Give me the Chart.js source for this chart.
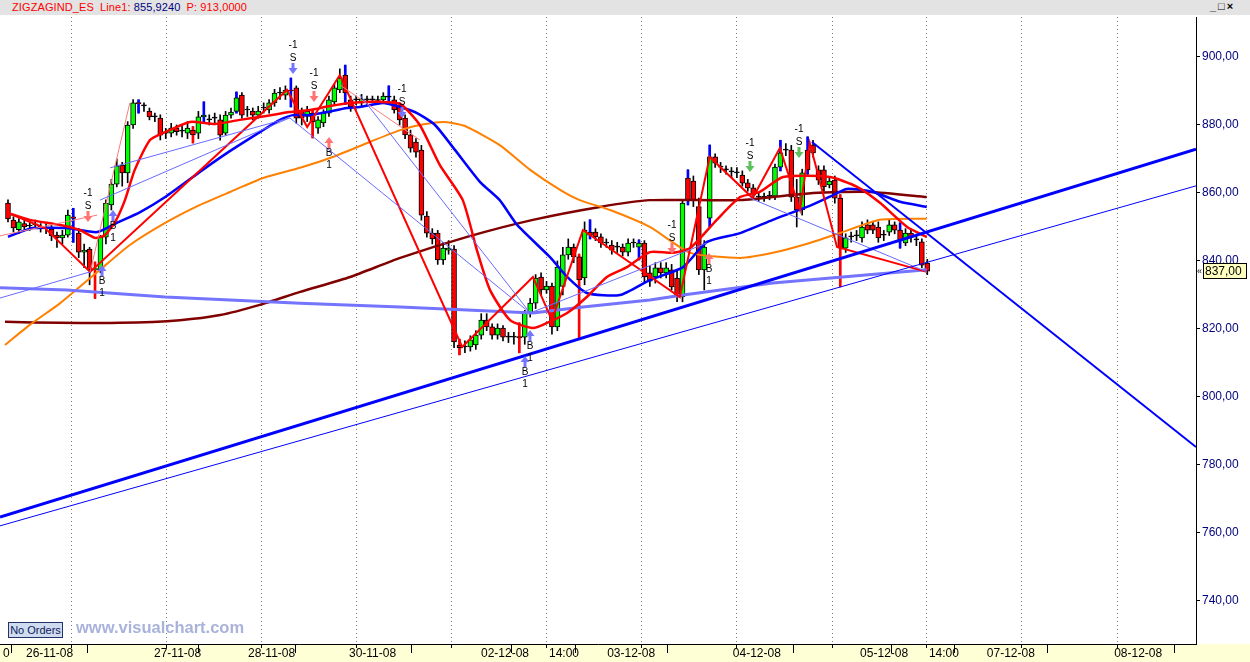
<!DOCTYPE html>
<html>
<head>
<meta charset="utf-8">
<script src="https://cdn.jsdelivr.net/npm/chart.js@4.4.1/dist/chart.umd.min.js"></script>
<style>
body { margin: 0; background: #fff; overflow: hidden; }
#wrap { position: relative; width: 1250px; height: 662px; }
#chart { position: absolute; left: 0; top: 0; }
#bar { position: absolute; left: 0; top: 0; width: 1250px; height: 15px; background: #e3e3e3;
       font: 11px "Liberation Sans", Arial, sans-serif; line-height: 15px; white-space: pre; }
#bar .r { color: #ff0000; }
#bar .b { color: #000080; }
#bar .t { position: absolute; left: 12px; top: 0; letter-spacing: 0.1px; }
#bar .g { margin-left: 3px; }
#btns { position: absolute; left: 1210px; top: 0; font: bold 11px "Liberation Sans", Arial, sans-serif; color: #000; letter-spacing: 2px; }
#orders { position: absolute; left: 8px; top: 622px; width: 53px; height: 14px; background: #cfdcf0; border: 1px solid #24306a;
          font: 11px "Liberation Sans", Arial, sans-serif; color: #10205a; line-height: 14px; text-align: center; }
#web { position: absolute; left: 76px; top: 618px; font: bold 16.5px "Liberation Sans", Arial, sans-serif; color: #a9b2da; }
</style>
</head>
<body>
<div id="wrap">
  <canvas id="chart" width="1250" height="662"></canvas>
  <div id="bar"><span class="t"><span class="r">ZIGZAGIND_ES</span><span class="r g"> Line1:</span> <span class="b">855,9240</span><span class="r g"> P: 913,0000</span></span><span id="btns">_□×</span></div>
  <div id="orders">No Orders</div>
  <div id="web">www.visualchart.com</div>
</div>
<script>
// Bougies horaires du mini S&P (ES), 26-11-08 -> 05-12-08
const opens = [
  857, 852, 849.2, 851, 850.3, 850.6, 850, 849.7, 849.4, 847.6,
  846.8, 847.6, 853, 848.2, 842.6, 843.5, 837.4, 837.4, 847, 856.5,
  862.6, 868.2, 865.9, 880, 886.5, 885.6, 884.1, 882.4, 882, 877.6,
  877.6, 879.1, 878.2, 877.6, 878.5, 877.6, 882.4, 881.5, 882, 881.5,
  877.6, 882.9, 884, 888.8, 884.4, 884.1, 882.9, 885, 884.4, 886.5,
  889.4, 888.8, 890.3, 890.9, 884.4, 882.5, 883.5, 879.1, 880.6, 883.5,
  886.8, 890.3, 894.7, 887.4, 887.4, 886.5, 887.4, 887.4, 887.2, 887.4,
  888.2, 887.4, 885.9, 882, 877.1, 875, 872.6, 853.2, 848.2, 848.2,
  840.3, 843.2, 843.5, 815.3, 814.7, 814.7, 815.3, 818.2, 822.6, 820.6,
  818.2, 820.3, 817.6, 817.6, 817.8, 817.6, 824.7, 827.6, 835.3, 831.5,
  832.6, 820.6, 832.5, 841.8, 844.1, 841.2, 835, 848.5, 848.5, 847.1,
  845.3, 844.7, 844.1, 844.1, 842.6, 845.3, 844.1, 845.3, 836.5, 835.3,
  838, 836.5, 837.4, 835, 829.4, 864.4, 863.5, 856, 837.4, 852.6,
  870.6, 867.6, 866.8, 866.2, 865.9, 865.3, 863, 861.5, 858.8, 858.8,
  859.1, 859.1, 867.6, 872.6, 872.6, 858.8, 855, 872.6, 874.1, 866.8,
  866.8, 862.4, 863.8, 858.5, 843.8, 847.1, 847.4, 846.8, 850.6, 850.6,
  850, 847.6, 848.5, 850.6, 849.1, 845.3, 848.2, 846.2, 845.6, 839.4
];
const highs = [
  858, 853, 852.5, 852, 851.5, 852, 851, 851, 850.5, 848.5,
  849, 855, 855.5, 849.5, 845, 844, 839.7, 847.5, 858, 864,
  870, 869, 881, 887.5, 887.4, 886.5, 885, 883.5, 883, 879,
  880.5, 880, 880, 881, 879.5, 884, 886.8, 883, 883.5, 883,
  884, 885, 889.7, 889.5, 885.5, 885, 885.5, 886.5, 887.5, 890.5,
  891, 891.5, 893.8, 891.5, 885, 885.5, 884.5, 882.5, 884.5, 888.5,
  892, 896.5, 897.6, 888.5, 888.5, 889, 888.5, 888.5, 888.5, 889.5,
  891.5, 888.5, 886.5, 883, 878.5, 876, 874, 854.5, 849.5, 849,
  845.5, 846, 844.5, 817, 816.5, 818, 819.5, 824.5, 824.5, 821.5,
  821.5, 821, 819, 819, 821.8, 825.5, 829, 836, 836.5, 834,
  833.5, 840, 844, 846.5, 845, 842, 851.5, 852.1, 849.5, 848,
  846.5, 846, 845.5, 845, 846.5, 846.5, 846.2, 846, 838.5, 839.5,
  839.5, 839.5, 839, 837, 858, 866.8, 865, 858.5, 846, 874.1,
  871.5, 869, 868, 867.5, 867.5, 866.5, 864, 862.5, 860, 860,
  860.5, 868.5, 875.5, 874.5, 874, 864, 867, 876.5, 875.5, 868,
  868, 864.5, 865, 859.5, 848, 848.5, 849, 851.5, 852.1, 851.5,
  851.5, 849, 852, 851.5, 851.2, 849.5, 849, 847.5, 846.5, 840.5
];
const lows = [
  851.5, 848.5, 848, 849, 849, 849.5, 848.5, 848, 846, 844,
  845, 847, 845.5, 841, 838, 833, 829, 836.5, 845, 855,
  861.8, 862, 863, 879, 883.5, 884, 881.5, 881, 875.6, 876,
  876.5, 877, 876.5, 876, 874.7, 876, 880.5, 880, 880.5, 875.5,
  877, 882, 883.5, 882, 882.5, 881.5, 882, 883.5, 883.5, 885.5,
  887.5, 887.5, 885.3, 880.5, 880, 881, 876.2, 877.5, 879.5, 882.5,
  886, 889.5, 886, 884, 886, 885.5, 886, 886.5, 886, 886.5,
  886.5, 883.5, 880, 876, 872, 870.5, 852, 847, 845, 839,
  839, 842, 814.5, 812.4, 813, 813.5, 814, 817, 819.5, 817,
  817, 816.5, 816, 815.5, 813, 815.5, 823.5, 826, 830, 830.5,
  818.5, 819.5, 830, 840.5, 839.5, 817.4, 833, 846.5, 846, 844,
  844, 842, 842.5, 841.5, 841.5, 844, 840.3, 833.5, 832.5, 833.5,
  835, 835, 831.5, 828, 828, 856.5, 856, 836, 831.5, 850,
  867.5, 866, 865.5, 864.5, 864.5, 862, 860.5, 858.5, 857.5, 857.5,
  858, 858, 866.5, 871, 857.5, 850, 853.5, 865.5, 870.5, 862.5,
  860.5, 861.5, 857, 832.4, 842.5, 845.5, 846, 845.5, 848, 848,
  845.5, 846, 847.5, 848, 843.8, 844.5, 845.5, 844.5, 838, 836
];
const closes = [
  852.4, 849.7, 851.5, 850, 850.3, 850.6, 850, 849.7, 847.4, 846.8,
  847.6, 853.5, 852.5, 842.6, 843.2, 837.4, 837.8, 847, 857, 862.6,
  868, 865.9, 880, 886.5, 886.3, 885.6, 882.4, 882.4, 877, 877.6,
  879.1, 878, 878.2, 879.1, 877.1, 882.4, 882.9, 881.5, 882, 877,
  882.9, 883.8, 888, 882.9, 884.4, 882.9, 884.1, 885, 886.5, 889.4,
  889.4, 890.3, 890, 882, 882, 884, 880.9, 881.5, 883.5, 887.4,
  890.9, 893.8, 889.4, 885.3, 887.4, 887.6, 887.4, 887.4, 887.2, 888.5,
  888.2, 884.4, 881.5, 877.1, 873.2, 872, 853.5, 848.2, 846.5, 840.3,
  843.8, 843.8, 816.2, 814.5, 814.7, 816.8, 818.2, 822.6, 820.6, 818.2,
  820.3, 817.6, 817.6, 817.6, 817.4, 824.7, 827.6, 835, 831.5, 832.6,
  820.6, 838.2, 841.8, 844.1, 841.2, 834.4, 849.1, 847.6, 847.1, 845.3,
  845.3, 843.2, 844.1, 842.6, 845.3, 845.3, 845.3, 835.3, 834.1, 838,
  836.5, 838, 832.4, 829.4, 857, 858, 857.9, 837.4, 844.1, 870.6,
  868.8, 867.6, 866.8, 866.2, 865.9, 862.9, 861.5, 859.4, 858.8, 858.8,
  859.1, 867.6, 871.8, 872.6, 858.8, 855, 865.9, 866.8, 871.8, 863.8,
  861.8, 863.5, 858.5, 843.8, 846.8, 847.1, 847.4, 850, 849.1, 849.1,
  846.8, 847.6, 850.6, 849.1, 846.2, 848.2, 847.1, 846.2, 838.8, 837
];
// bougies dont la meche est coloree
const blueWicks = [12, 24, 36, 42, 52, 62, 70, 107, 116, 125, 129, 142, 147, 164];
const redWicks = [16, 34, 56, 83, 94, 105, 153];

// moyennes mobiles et lignes du ZigZag : [numero de bougie, prix]
const blueMA = [[0,847.1],[2.2,848.5],[4.6,849.7],[10.8,849.7],[16.4,848.5],[20,851.2],[24.3,854.4],[28.9,858.8],[35.8,866.8],[40.3,871.8],[46.3,877.9],[50,881.5],[52.4,882.9],[55.5,882.9],[58.6,883.8],[62.3,885],[64.7,885.3],[68.9,886.5],[72.1,885.3],[75.2,883.5],[78.5,880],[82.2,872.6],[86.8,863.2],[90.4,857.9],[93.6,850.6],[99.6,841.2],[102.8,835.3],[106.4,830.6],[112.5,830],[118,834.4],[124.1,838.2],[128.5,845.6],[134.6,848.2],[140.6,852.1],[146.9,855.9],[151.7,859.4],[154.2,861.2],[159,860.3],[164,857.4],[168.9,855.9]];
const redMA = [[0,854.1],[4,852.1],[9.6,850.6],[13.2,849.1],[16,846.8],[17.8,847.6],[19.7,851.5],[21.5,857.9],[23.3,866.8],[26.1,875.6],[28.9,877.9],[33.5,880.9],[38.1,880.3],[42.6,881.5],[47.2,882.6],[51.8,883.8],[55.5,884.4],[59.2,885.6],[62.9,886.5],[68.4,886.8],[72.1,886.2],[75.7,880],[79.4,868.2],[83.6,857.9],[86.2,843.2],[88.6,831.5],[92.3,822.6],[96.5,820.3],[99.1,821.8],[102.8,824.7],[106.4,829.4],[110.1,835.3],[113.8,838.2],[118,842.6],[122.2,842.4],[125.4,843.8],[130.3,852.1],[134.6,858.8],[138.2,860.3],[142.5,864.7],[151.1,864.7],[156.1,861.8],[160.3,857.1],[165.3,850],[168.9,847.1]];
const orangeMA = [[-0.55,815.3],[4,821.2],[9.6,827.6],[16.9,837.4],[22.4,844.7],[28.9,851.2],[35.3,856.5],[40.8,860.3],[46.9,864.4],[53.7,867.4],[59.7,870.6],[66.5,875],[72.1,878.5],[76.7,880.3],[80.3,880.9],[84,879.7],[90.4,874.1],[96,866.8],[101.5,860.9],[105.1,857.9],[110.7,855],[118,850],[125.4,842.4],[134.6,840.9],[140.6,842.4],[147.4,845.3],[152.9,848.2],[160.3,852.1],[168.9,852.4]];
const maroonMA = [[-0.55,822.1],[9.6,821.8],[20.6,821.8],[31.6,822.6],[39,824.1],[46.3,827.1],[53.7,830.9],[62.9,835.3],[72.1,840.9],[84.4,847.1],[96.5,852.1],[108.8,855.9],[118,857.9],[134.6,857.9],[148,860],[158.5,860.3],[168.9,858.8]];
const zigzag = [[0,854.1],[6.8,849.7],[15.1,836.8],[51.3,890.3],[55,879.4],[61,894.7],[83.5,814.7],[96.5,835.3],[100,822.6],[105.7,849.1],[123.5,829.4],[129,870.6],[136.9,858.5],[141.9,873.2],[145.6,855],[147.4,874.7],[152.4,844.1],[168.9,836.8]];
const lowLine = [[-1.47,832.1],[10.8,831.5],[28.9,829.4],[53.7,827.6],[72.1,826.5],[84.4,825.6],[96.5,824.7],[105.7,826.5],[118,828.5],[124.1,830],[140.6,833.5],[168.9,837.4]];
const thinBlue = [
  [[-1.47,829.1],[15.1,836.8]],
  [[16.9,857.9],[51.8,882.1]],
  [[18.8,867.4],[51.8,882.1]],
  [[51.8,882.1],[96,824.7]],
  [[64.7,888.8],[96,824.7]],
  [[96,824.7],[128.5,845.3]],
  [[136.4,858.5],[168.9,836.8]]
];
const thinPink = [
  [[-1.47,847.4],[16.4,853.5]],
  [[15.1,836.8],[22.4,886.5]],
  [[61,891.8],[75.7,875.6]]
];
// droites de tendance tracees a la main
const trendUp = [[-1.47,764.7],[218.4,872.9]];
const trendUpThin = [[-1.47,762.1],[218.4,862.1]];
const trendDown = [[147.8,875],[218.4,785.3]];

// signaux du ZigZag
const sigX = [14.7, 17.3, 19.3, 52.4, 56.25, 59, 72.4, 96, 95, 122, 128.9, 136.4, 145.4];
const sigPrice = [851.5, 838.8, 855, 895, 886.8, 876.5, 882, 819.7, 812, 842, 842.4, 866.2, 870.3];
const sigSide = ['S','B','B','S','S','B','S','B','B','S','B','S','S'];
const sigTone = ['pink','blue','blue','blue','pink','pink','blue','blue','blue','pink','pink','green','green'];

// axes
const dateTicks = [2.76, 26.29, 43.57, 62.13, 86.4, 98.9, 109.6, 132.7, 156.1, 168.75, 179.4, 202.8];
const dateLabels = ['26-11-08','27-11-08','28-11-08','30-11-08','02-12-08','14:00','03-12-08','04-12-08','05-12-08','14:00','07-12-08','08-12-08'];
const gridTicks = [11.6, 29.1, 46.5, 64.0, 81.5, 98.9, 116.4, 133.9, 151.4, 168.8, 186.3, 203.8];
const priceTicks = [740, 760, 780, 800, 820, 840, 860, 880, 900];

const X_MIN = -1.47, X_MAX = 218.4;
const toneColor = { pink: '#ff7373', blue: '#7575ff', green: '#5cc05c' };

const idx = opens.map((_, i) => i);
const bodyColor = i => closes[i] > opens[i] ? '#00ff00' : closes[i] < opens[i] ? '#ff0000' : '#000000';
const pts = arr => arr.map(p => ({ x: p[0], y: p[1] }));

function line(data, color, width, order, tension) {
  return {
    type: 'line', data: pts(data), borderColor: color, borderWidth: width,
    pointRadius: 0, tension: tension || 0, fill: false, order: order
  };
}

const datasets = [
  {
    type: 'bar', data: idx.map(i => ({ x: i, y: [lows[i], highs[i]] })),
    backgroundColor: '#000', barThickness: 1, grouped: false, order: 30
  },
  {
    type: 'bar',
    data: blueWicks.concat(redWicks).map(i => ({ x: i, y: [lows[i], highs[i]] })),
    backgroundColor: ctx => blueWicks.includes(ctx.raw && ctx.raw.x) ? '#0000ff' : '#ff0000',
    barThickness: 2, grouped: false, order: 29
  },
  {
    type: 'bar', data: idx.map(i => ({ x: i, y: [opens[i], closes[i]] })),
    backgroundColor: ctx => bodyColor(ctx.dataIndex),
    borderColor: '#000', borderWidth: 1, borderSkipped: false,
    barThickness: 5, minBarLength: 1, grouped: false, order: 28
  },
  line(maroonMA, '#800000', 2.5, 12, 0.2),
  line(orangeMA, '#ff8000', 2, 11, 0.2),
  line(lowLine, '#7474ff', 3, 10),
  line(blueMA, '#0000ff', 2.5, 9, 0.2),
  line(redMA, '#ff0000', 2.5, 8, 0.2),
  line(zigzag, '#ff0000', 2, 7),
  line(trendUp, '#0000ff', 3, 3),
  line(trendUpThin, '#0000ff', 1, 3),
  line(trendDown, '#0000ff', 2, 3)
];
thinBlue.forEach(seg => datasets.push(line(seg, '#6a6aff', 1, 6)));
thinPink.forEach(seg => datasets.push(line(seg, '#ff7a7a', 1, 6)));

const decor = {
  id: 'decor',
  beforeDraw(chart) {
    const { ctx, chartArea: a, width, height } = chart;
    ctx.save();
    ctx.fillStyle = '#ffffff';
    ctx.fillRect(0, 0, width, height);
    ctx.fillStyle = '#ffffd6';
    ctx.fillRect(0, a.bottom, width, height - a.bottom);
    ctx.restore();
  },
  beforeDatasetsDraw(chart) {
    const { ctx, chartArea: a, scales } = chart;
    ctx.save();
    ctx.strokeStyle = '#7a7a7a';
    ctx.lineWidth = 1;
    ctx.setLineDash([1, 3]);
    gridTicks.forEach(v => {
      const px = Math.round(scales.x.getPixelForValue(v)) + 0.5;
      ctx.beginPath(); ctx.moveTo(px, a.top); ctx.lineTo(px, a.bottom); ctx.stroke();
    });
    ctx.setLineDash([]);
    ctx.strokeStyle = '#000';
    gridTicks.forEach(v => {
      const px = Math.round(scales.x.getPixelForValue(v)) + 0.5;
      ctx.beginPath(); ctx.moveTo(px, a.bottom); ctx.lineTo(px, a.bottom + 4); ctx.stroke();
    });
    ctx.restore();
  },
  afterDatasetsDraw(chart) {
    const { ctx, scales } = chart;
    ctx.save();
    ctx.font = '10px "Liberation Sans", Arial, sans-serif';
    ctx.textAlign = 'center';
    ctx.textBaseline = 'middle';
    sigX.forEach((v, k) => {
      const px = Math.round(scales.x.getPixelForValue(v));
      const py = Math.round(scales.y.getPixelForValue(sigPrice[k]));
      const d = sigSide[k] === 'S' ? -1 : 1; // -1 : fleche vers le bas
      ctx.fillStyle = toneColor[sigTone[k]];
      ctx.beginPath();
      ctx.moveTo(px, py);
      ctx.lineTo(px - 4.5, py + d * 6);
      ctx.lineTo(px - 1.5, py + d * 6);
      ctx.lineTo(px - 1.5, py + d * 11);
      ctx.lineTo(px + 1.5, py + d * 11);
      ctx.lineTo(px + 1.5, py + d * 6);
      ctx.lineTo(px + 4.5, py + d * 6);
      ctx.closePath();
      ctx.fill();
      ctx.fillStyle = '#000';
      if (sigSide[k] === 'S') {
        ctx.fillText('S', px, py - 16);
        ctx.fillText('-1', px, py - 29);
      } else {
        ctx.fillText('B', px, py + 16);
        ctx.fillText('1', px, py + 28);
      }
    });
    // etiquette du dernier prix
    const last = closes[closes.length - 1];
    const ty = Math.round(scales.y.getPixelForValue(last));
    ctx.fillStyle = '#ffffc0';
    ctx.fillRect(1203, ty - 8, 44, 16);
    ctx.strokeStyle = '#000';
    ctx.lineWidth = 1;
    ctx.strokeRect(1203.5, ty - 7.5, 43, 15);
    ctx.fillStyle = '#000';
    ctx.font = '12px "Liberation Sans", Arial, sans-serif';
    ctx.textAlign = 'left';
    ctx.fillText(last.toFixed(2).replace('.', ','), 1205, ty + 1);
    ctx.font = '9px "Liberation Sans", Arial, sans-serif';
    ctx.fillText('«', 1197, ty + 1);
    ctx.restore();
  }
};

new Chart(document.getElementById('chart'), {
  type: 'bar',
  data: { datasets: datasets },
  options: {
    responsive: false,
    animation: false,
    devicePixelRatio: 1,
    layout: { padding: { top: 17, left: 0, right: 0, bottom: 0 } },
    plugins: { legend: { display: false }, tooltip: { enabled: false } },
    scales: {
      x: {
        type: 'linear', min: X_MIN, max: X_MAX, offset: false,
        afterBuildTicks: s => { s.ticks = [{ value: X_MIN }].concat(dateTicks.map(v => ({ value: v }))); },
        afterFit: s => { s.height = 18; },
        grid: { drawOnChartArea: false, tickLength: 9, tickColor: '#000' },
        border: { color: '#000', width: 1 },
        ticks: {
          autoSkip: false, maxRotation: 0, align: 'start', labelOffset: 3, padding: -7,
          color: '#000', font: { family: '"Liberation Sans", Arial, sans-serif', size: 12 },
          callback: (v, i) => i === 0 ? '0' : dateLabels[i - 1]
        }
      },
      y: {
        type: 'linear', position: 'right', min: 727.35, max: 911.76,
        afterBuildTicks: s => { s.ticks = priceTicks.map(v => ({ value: v })); },
        afterFit: s => { s.width = 54; },
        grid: { drawOnChartArea: false, tickLength: 4, tickColor: '#000' },
        border: { color: '#000', width: 1 },
        ticks: {
          padding: 2, color: '#000080',
          font: { family: '"Liberation Sans", Arial, sans-serif', size: 12 },
          callback: v => v.toFixed(2).replace('.', ',')
        }
      }
    }
  },
  plugins: [decor]
});
</script>
</body>
</html>
